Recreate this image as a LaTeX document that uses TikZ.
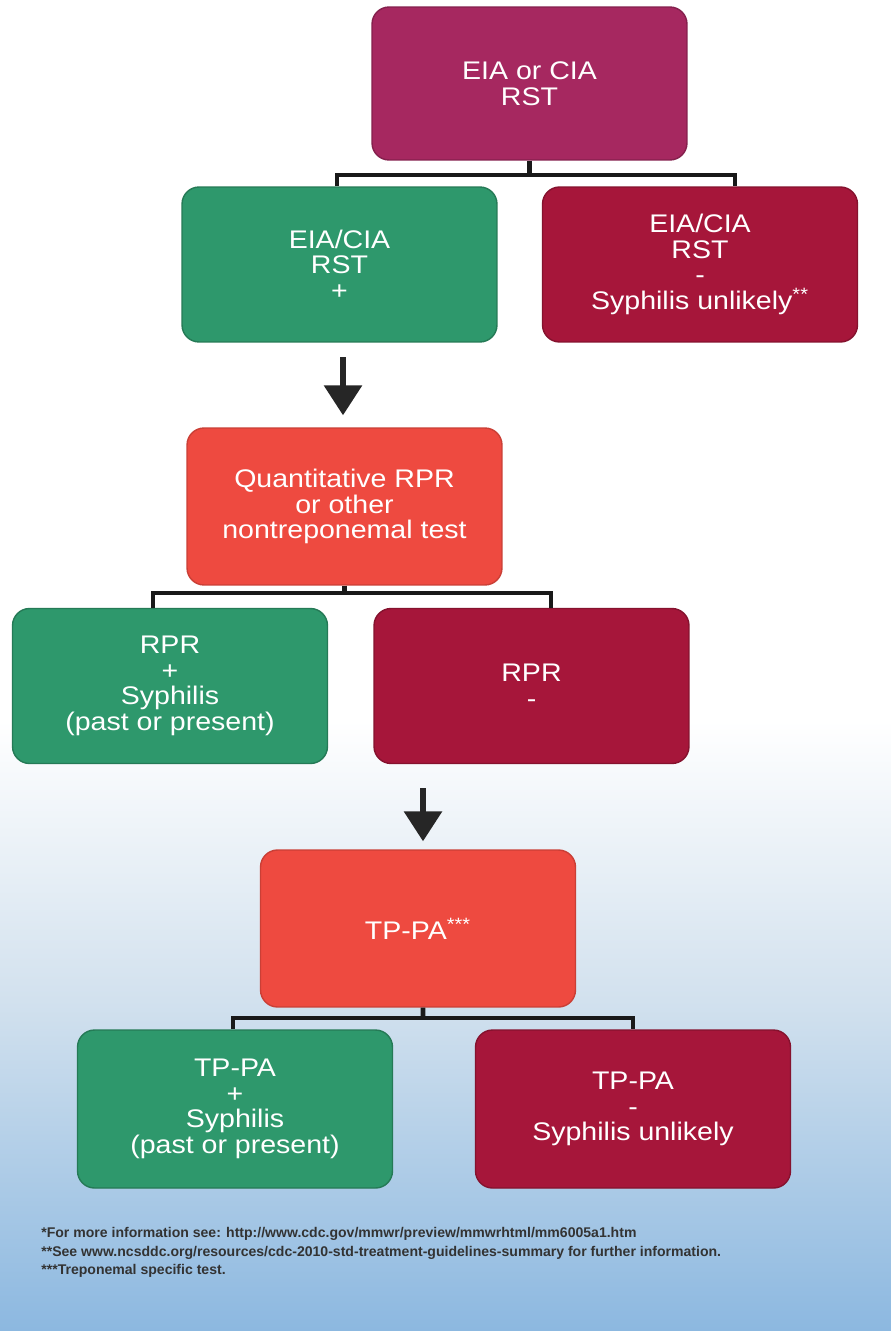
\documentclass[tikz,border=0pt]{standalone}
\usepackage{fontspec}
\setmainfont{Liberation Sans}
\newfontfamily\boxfont[FakeStretch=1.12]{Liberation Sans}
\usetikzlibrary{arrows.meta}
\definecolor{topred}{RGB}{166,40,96}
\definecolor{posgreen}{RGB}{46,152,108}
\definecolor{negred}{RGB}{166,22,58}
\definecolor{testred}{RGB}{238,74,64}
\definecolor{bgpale}{RGB}{210,225,238}
\definecolor{bgblue}{RGB}{140,184,224}
\tikzset{
  box/.style={rounded corners=0.34cm, minimum width=6.3cm, minimum height=3.1cm,
    align=center, text=white, line width=0.8pt,
    font=\boxfont\fontsize{14.5}{14.6}\selectfont},
  startbox/.style={box, fill=topred, draw=topred!80!black},
  testbox/.style={box, fill=testred, draw=testred!85!black},
  posbox/.style={box, fill=posgreen, draw=posgreen!80!black},
  negbox/.style={box, fill=negred, draw=negred!80!black},
  tree/.style={line width=2.8pt, black!90},
  flow/.style={line width=3.4pt, black!85, -{Triangle[width=21pt,length=17pt]}},
  note/.style={anchor=west, inner sep=0pt, text=black!80,
    font=\bfseries\fontsize{8}{9}\selectfont}
}
\begin{document}
\begin{tikzpicture}[x=0.02cm,y=-0.02cm]
    \useasboundingbox (0,0) rectangle (891,1331);
    \fill[white] (0,0) rectangle (891,720);
    \shade[top color=white,bottom color=bgpale] (0,720) rectangle (891,1000);
    \shade[top color=bgpale,bottom color=bgblue] (0,1000) rectangle (891,1331);

    \node[startbox, minimum height=3.06cm] (eia) at (529.5,83.5) {EIA or CIA\\RST};
    \node[posbox] (pos1) at (339.5,264.5) {EIA/CIA\\RST\\+};
    \node[negbox] (neg1) at (700,264.5) {EIA/CIA\\RST\\-\\Syphilis unlikely\textsuperscript{**}};
    \node[testbox, minimum height=3.14cm] (rpr) at (344.5,506.5) {Quantitative RPR\\or other\\nontreponemal test};
    \node[posbox] (pos2) at (170,686) {RPR\\+\\Syphilis\\(past or present)};
    \node[negbox] (neg2) at (531.5,686) {RPR\\-};
    \node[testbox, minimum height=3.14cm] (tppa) at (418,928.5) {TP-PA\textsuperscript{***}};
    \node[posbox, minimum height=3.16cm] (pos3) at (235,1109) {TP-PA\\+\\Syphilis\\(past or present)};
    \node[negbox, minimum height=3.16cm] (neg3) at (633,1109) {TP-PA\\-\\Syphilis unlikely};

    \coordinate (j1) at (529.5,175);
    \coordinate (j2) at (344.5,593);
    \coordinate (j3) at (423,1018);
    \draw[tree] (eia.south) -- (j1);
    \draw[tree] ([xshift=-0.05cm]pos1.north) |- (j1) -| ([xshift=0.7cm]neg1.north);
    \draw[tree] (rpr.south) -- (j2);
    \draw[tree] ([xshift=-0.34cm]pos2.north) |- (j2) -| ([xshift=0.39cm]neg2.north);
    \draw[tree] ([xshift=0.1cm]tppa.south) -- (j3);
    \draw[tree] ([xshift=-0.04cm]pos3.north) |- (j3) -| (neg3.north);

    \coordinate (a1) at (343,357);
    \coordinate (a2) at (423,788);
    \draw[flow, shorten >=0.24cm] (a1) -- (a1 |- rpr.north);
    \draw[flow, shorten >=0.16cm] (a2) -- (a2 |- tppa.north);

    \node[note] (n1) at (41,1234) {*For more information see: http://www.cdc.gov/mmwr/preview/mmwrhtml/mm6005a1.htm};
    \node[note] (n2) at (41,1253) {**See www.ncsddc.org/resources/cdc-2010-std-treatment-guidelines-summary for further information.};
    \node[note] (n3) at (41,1271) {***Treponemal specific test.};
\end{tikzpicture}
\end{document}
